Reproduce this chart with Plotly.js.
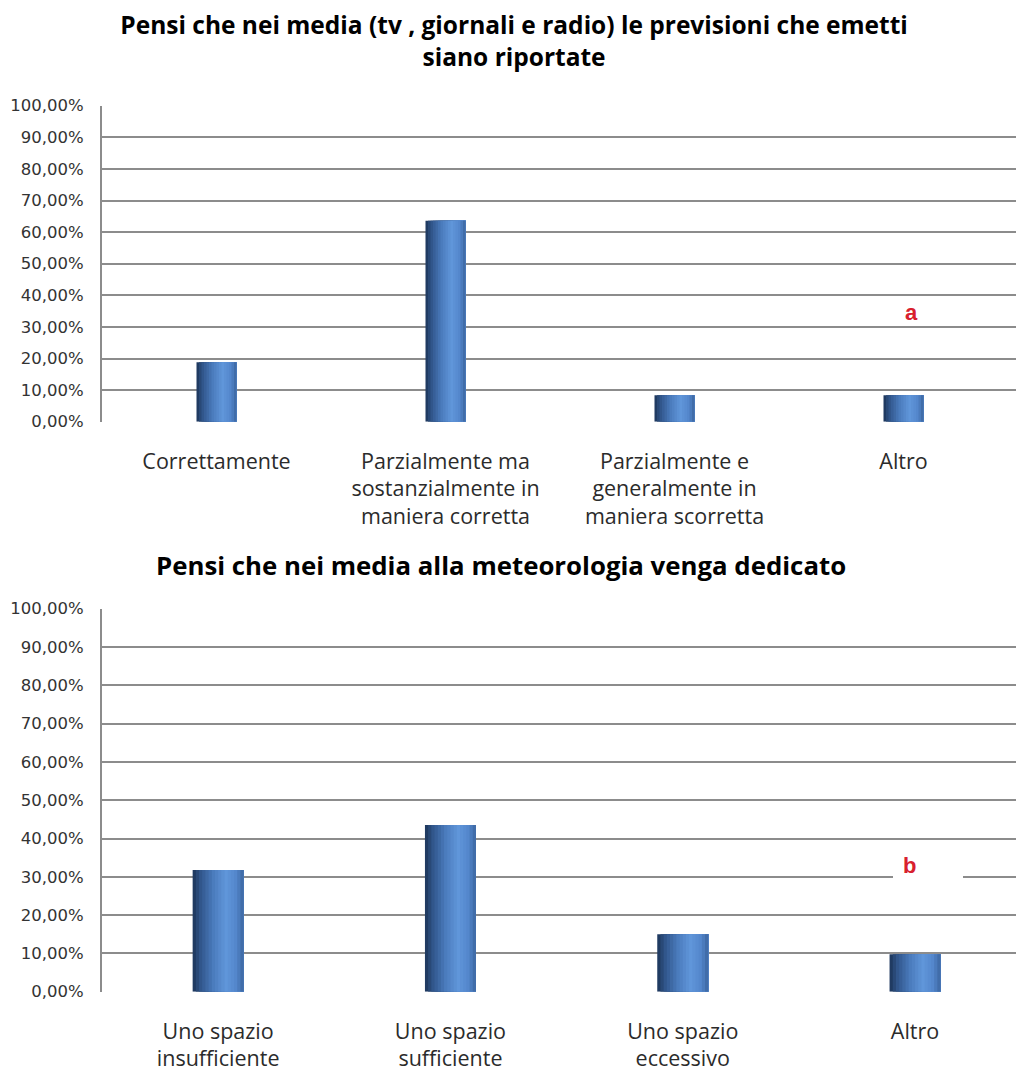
<!DOCTYPE html>
<html>
<head>
<meta charset="utf-8">
<script src="https://cdn.plot.ly/plotly-3.0.1.min.js"></script>
<style>
  html, body { margin: 0; padding: 0; background: #ffffff; }
  #chart { width: 1016px; height: 1077px; }
</style>
</head>
<body>
<div id="chart"></div>
<script>
// Survey answers: how weather forecasts are reported in the media
const titleTop = "Pensi che nei media (tv , giornali e radio) le previsioni che emetti<br>siano riportate";
const categoriesTop = [
  "Correttamente",
  "Parzialmente ma<br>sostanzialmente in<br>maniera corretta",
  "Parzialmente e<br>generalmente in<br>maniera scorretta",
  "Altro"
];
const valuesTop = [0.188, 0.636, 0.084, 0.084];

// Survey answers: space given to meteorology in the media
const titleBottom = "Pensi che nei media alla meteorologia venga dedicato";
const categoriesBottom = [
  "Uno spazio<br>insufficiente",
  "Uno spazio<br>sufficiente",
  "Uno spazio<br>eccessivo",
  "Altro"
];
const valuesBottom = [0.318, 0.435, 0.150, 0.098];

const noteTop = "a";
const noteBottom = "b";

// Page geometry (pixels) used to place the two panels
const W = 1016, H = 1077;
const plotLeft = 102;
const topPanel = { top: 105.7, bottom: 421.7 };
const bottomPanel = { top: 608.7, bottom: 991.7 };
const py = (px) => 1 - px / H;
const px2 = (px) => px / W;

// Horizontal shading of each column: a cylinder-like blue ramp
const stops = [
  [0.00, [28, 52, 88]],
  [0.15, [48, 85, 138]],
  [0.40, [74, 123, 188]],
  [0.65, [96, 150, 218]],
  [0.85, [84, 135, 204]],
  [1.00, [60, 102, 160]]
];
function ramp(t) {
  for (let i = 1; i < stops.length; i++) {
    if (t <= stops[i][0]) {
      const a = stops[i - 1], b = stops[i];
      const f = (t - a[0]) / (b[0] - a[0]);
      const c = a[1].map((v, k) => Math.round(v + (b[1][k] - v) * f));
      return `rgb(${c[0]},${c[1]},${c[2]})`;
    }
  }
  return "rgb(60,102,160)";
}

// Each strip runs from its own left edge to the right edge of the column,
// and later strips are drawn over earlier ones, so no seams show.
const strips = 16;
function shadedBars(cats, vals, barWidth, xa, ya) {
  const traces = [];
  const sw = barWidth / strips;
  for (let i = 0; i < strips; i++) {
    traces.push({
      type: "bar",
      x: cats,
      y: vals,
      xaxis: xa,
      yaxis: ya,
      width: barWidth - i * sw,
      offset: -barWidth / 2 + i * sw,
      marker: { color: ramp((i + 0.5) / strips), line: { width: 0 } },
      hoverinfo: "skip",
      showlegend: false
    });
  }
  return traces;
}

// category spacing in pixels for each panel
const stepTop = 229, stepBottom = 232.3;
const spanPx = W - plotLeft;

const data = [
  ...shadedBars(categoriesTop, valuesTop, 40 / stepTop, "x", "y"),
  ...shadedBars(categoriesBottom, valuesBottom, 51 / stepBottom, "x2", "y2")
];

const gridColor = "#8c8c8c";
const tickFont = { family: "DejaVu Sans", size: 16.5, color: "#333333" };
const catFont = { family: "Open Sans", size: 21.5, color: "#2b2b2b" };
const titleFontTop = { family: "Open Sans", size: 24.5, color: "#000000", weight: "bold" };
const titleFontBottom = { family: "Open Sans", size: 25.8, color: "#000000", weight: "bold" };

function yAxis(domain) {
  return {
    domain: domain,
    range: [0, 1],
    dtick: 0.1,
    tick0: 0,
    tickformat: ".2%",
    showgrid: true,
    gridcolor: gridColor,
    gridwidth: 2,
    zeroline: false,
    showline: true,
    linecolor: gridColor,
    linewidth: 2,
    ticks: "outside",
    ticklen: 13,
    tickcolor: "rgba(0,0,0,0)",
    tickfont: tickFont,
    fixedrange: true
  };
}
function xAxis(domain, anchor, step) {
  return {
    domain: domain,
    anchor: anchor,
    type: "category",
    range: [-0.5, -0.5 + spanPx / step],
    showgrid: false,
    zeroline: false,
    showline: false,
    ticks: "outside",
    ticklen: 20,
    tickcolor: "rgba(0,0,0,0)",
    tickfont: catFont,
    fixedrange: true
  };
}

const layout = {
  width: W,
  height: H,
  margin: { l: 0, r: 0, t: 0, b: 0 },
  paper_bgcolor: "#ffffff",
  plot_bgcolor: "#ffffff",
  separators: ",.",
  barmode: "overlay",
  showlegend: false,
  title: {
    text: titleTop,
    font: titleFontTop,
    x: 0.506,
    xanchor: "center",
    y: py(34),
    yanchor: "middle"
  },
  xaxis: xAxis([px2(plotLeft), 1], "y", stepTop),
  yaxis: yAxis([py(topPanel.bottom), py(topPanel.top)]),
  xaxis2: xAxis([px2(plotLeft), 1], "y2", stepBottom),
  yaxis2: Object.assign(yAxis([py(bottomPanel.bottom), py(bottomPanel.top)]), { anchor: "x2" }),
  shapes: [
    {
      type: "rect", xref: "paper", yref: "paper", layer: "above",
      x0: px2(893), x1: px2(963), y0: py(882), y1: py(852),
      fillcolor: "#ffffff", line: { width: 0 }
    }
  ],
  annotations: [
    {
      text: "<b>" + titleBottom + "</b>",
      xref: "paper", yref: "paper",
      x: px2(501), y: py(565),
      xanchor: "center", yanchor: "middle",
      showarrow: false,
      font: titleFontBottom
    },
    {
      text: "<b>" + noteTop + "</b>",
      xref: "paper", yref: "paper",
      x: px2(911), y: py(312),
      xanchor: "center", yanchor: "middle",
      showarrow: false,
      font: { family: "Liberation Sans", size: 22, color: "#d8202e" }
    },
    {
      text: "<b>" + noteBottom + "</b>",
      xref: "paper", yref: "paper",
      x: px2(909), y: py(865),
      xanchor: "center", yanchor: "middle",
      showarrow: false,
      font: { family: "Liberation Sans", size: 22, color: "#d8202e" }
    }
  ]
};

Plotly.newPlot("chart", data, layout, { displayModeBar: false, staticPlot: true });
</script>
</body>
</html>
